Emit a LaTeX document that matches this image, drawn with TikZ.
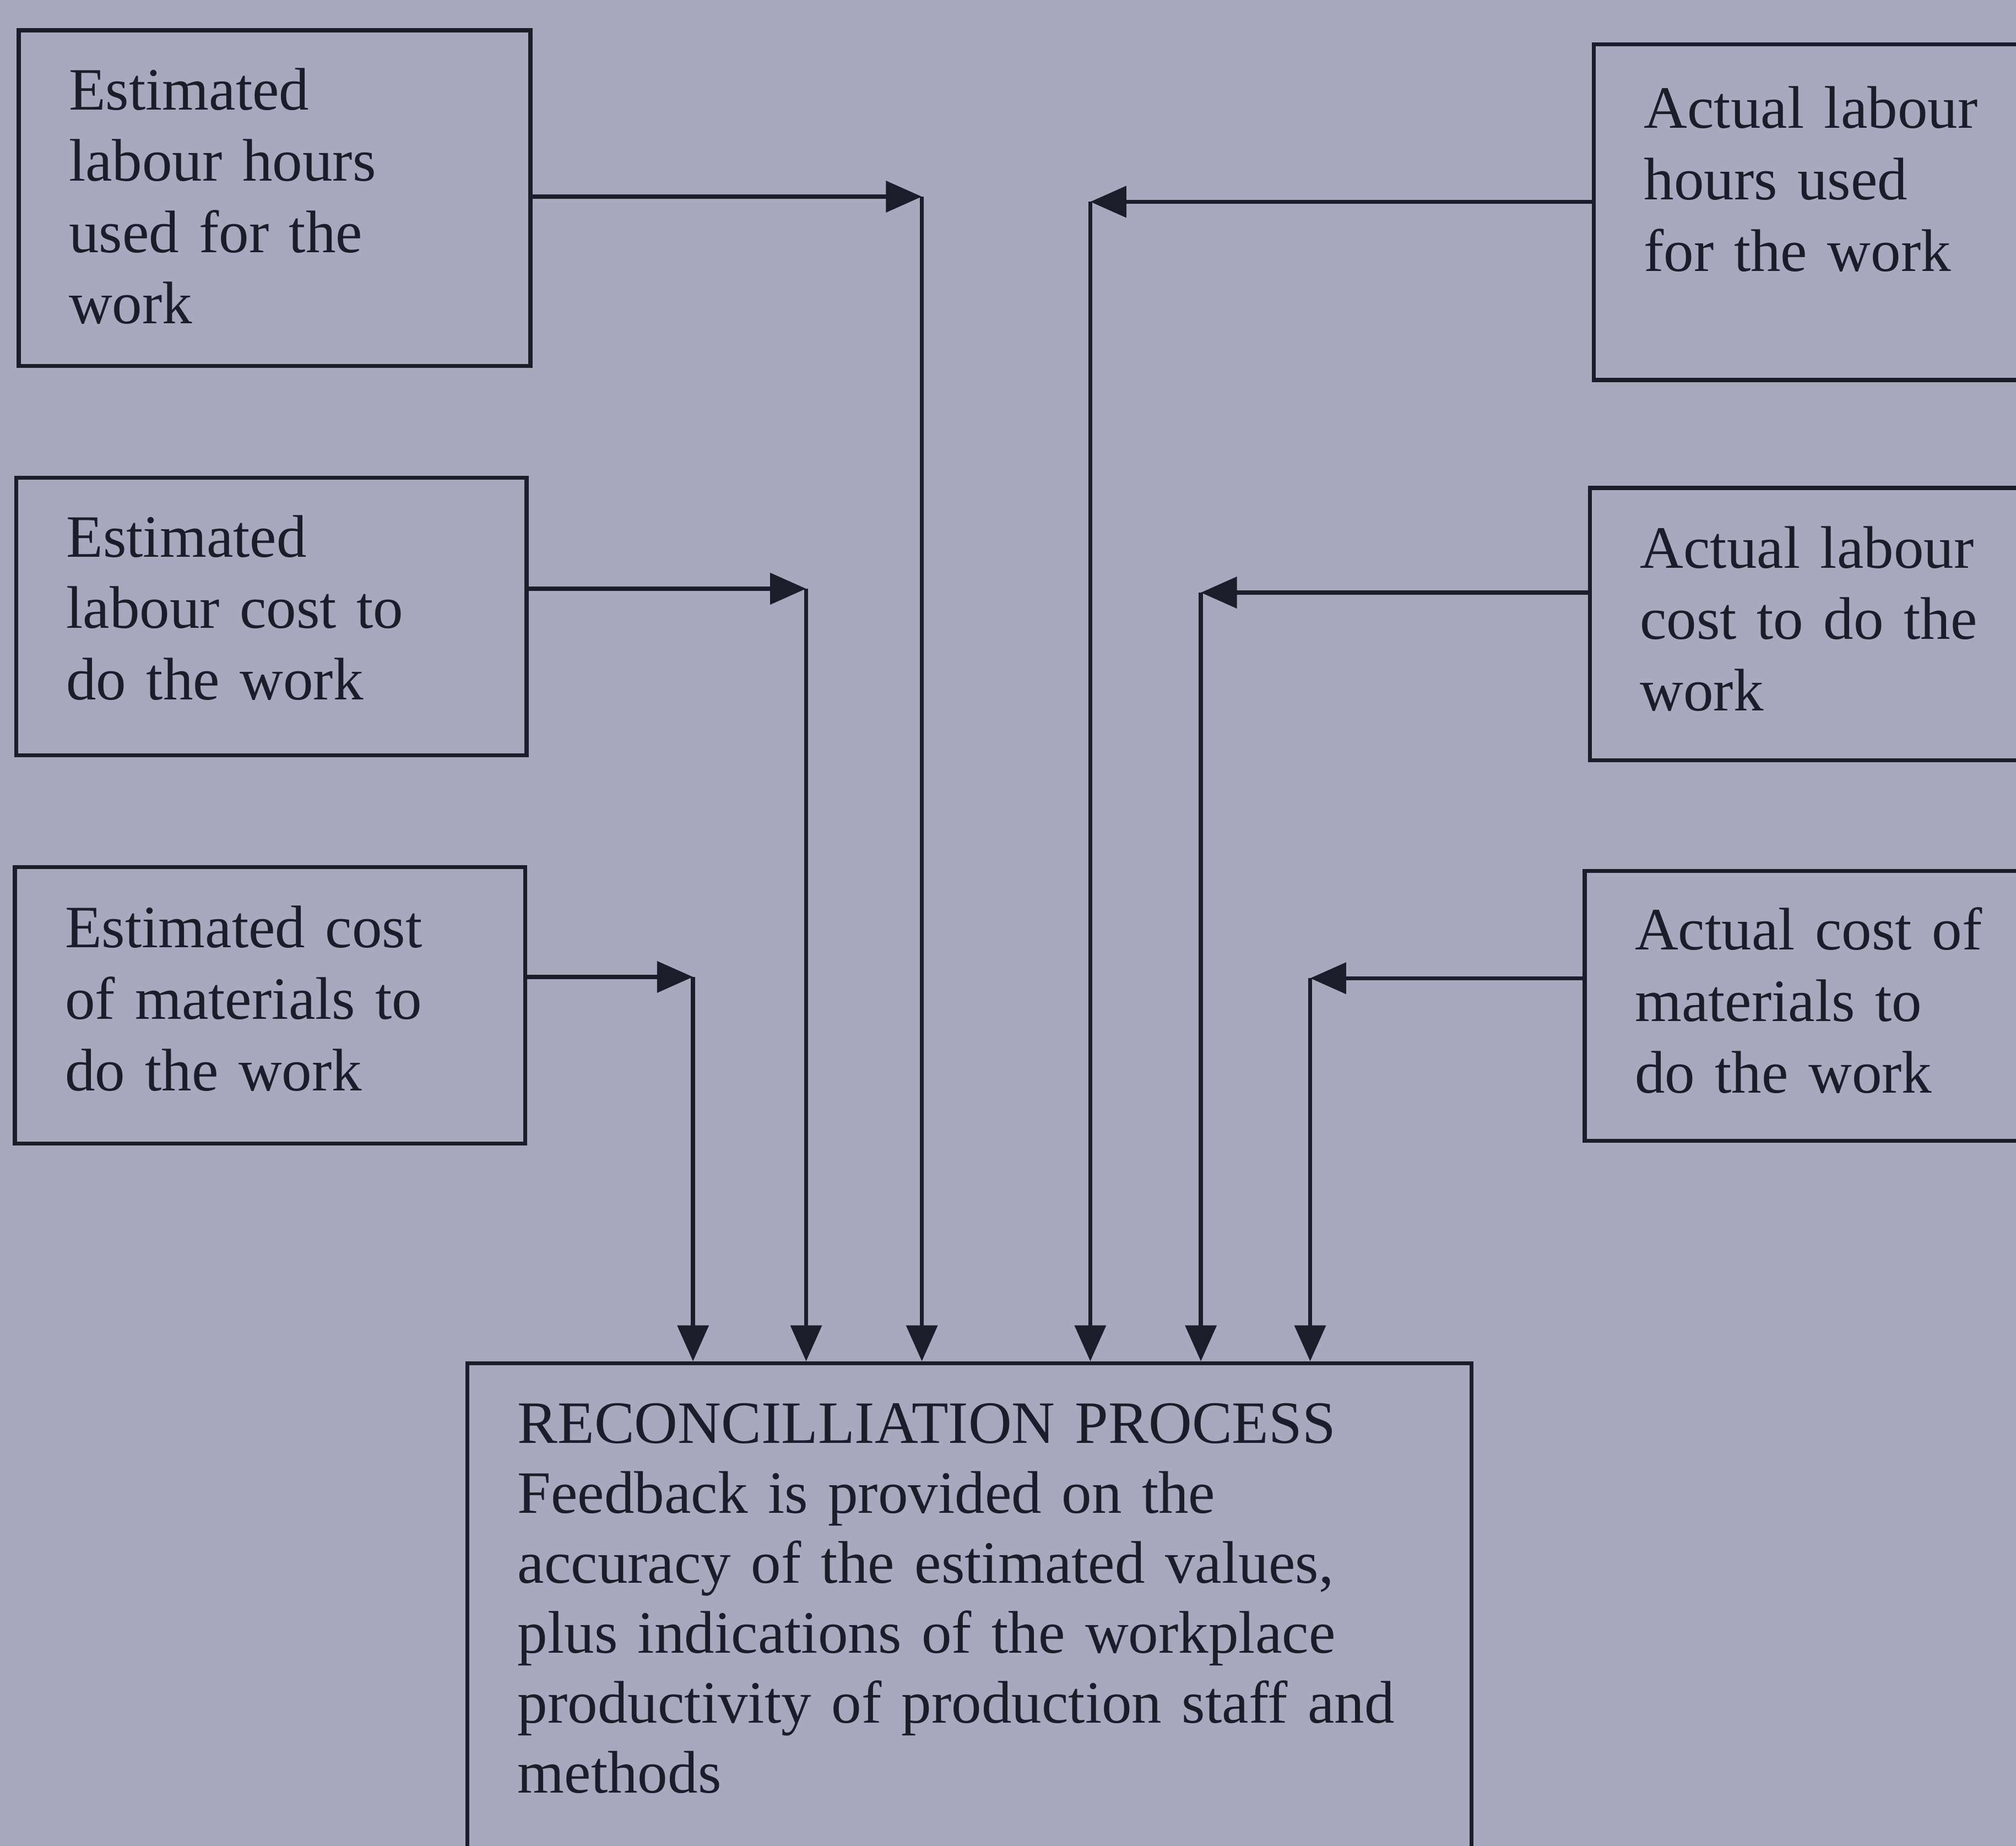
\documentclass[tikz,border=0pt]{standalone}
\usepackage{fontspec}
\setmainfont{Liberation Serif}
\usepackage{tikz}
\usetikzlibrary{arrows.meta,calc,positioning}

\definecolor{paper}{RGB}{170,168,190}
\definecolor{ink}{RGB}{28,28,42}

\begin{document}
\begin{tikzpicture}[
  box/.style={draw=ink, line width=0.9pt, text=ink, align=left, anchor=north west,
    inner xsep=0.39cm, font=\fontsize{13.3}{15.8}\selectfont},
  tip/.style={ink, line width=0.9pt, -{Triangle[length=0.28cm,width=0.24cm]}}]
\clip (0,0) rectangle (15.68,14.36);
\fill[paper] (0,0) rectangle (15.68,14.36);

% Estimated values
\node[box, text width=3.2cm, minimum height=2.61cm, text depth=1.70cm] (est1) at (0.13,14.14)
  {Estimated\\labour hours\\used for the\\work};
\node[box, text width=3.19cm, minimum height=2.16cm, text depth=1.25cm] (est2) at (0.11,10.66)
  {Estimated\\labour cost to\\do the work};
\node[box, text width=3.19cm, minimum height=2.15cm, text depth=1.22cm] (est3) at (0.10,7.63)
  {Estimated cost\\of materials to\\do the work};

% Actual values
\node[box, text width=3.3cm, minimum height=2.61cm, text depth=1.63cm] (act1) at (12.38,14.03)
  {Actual labour\\hours used\\for the work};
\node[box, text width=3.3cm, minimum height=2.12cm, text depth=1.20cm] (act2) at (12.35,10.58)
  {Actual labour\\cost to do the\\work};
\node[box, text width=3.3cm, minimum height=2.10cm, text depth=1.20cm] (act3) at (12.31,7.60)
  {Actual cost of\\materials to\\do the work};

% Reconciliation
\node[box, text width=7.03cm, inner ysep=0.31cm, text depth=3.72cm,
  font=\fontsize{13.3}{15.5}\selectfont] (rec) at (3.62,3.77)
  {RECONCILLIATION PROCESS\\Feedback is provided on the\\accuracy of the estimated values,\\plus indications of the workplace\\productivity of production staff and\\methods};

% Corners
\coordinate (k1) at (7.17,12.83);
\coordinate (k2) at (6.27,9.78);
\coordinate (k3) at (5.39,6.76);
\coordinate (k4) at (8.48,12.79);
\coordinate (k5) at (9.34,9.75);
\coordinate (k6) at (10.19,6.75);

% Connectors
\draw[tip] (est1.east |- k1) -- (k1);
\draw[tip] (k1) -- (k1 |- rec.north);
\draw[tip] (est2.east |- k2) -- (k2);
\draw[tip] (k2) -- (k2 |- rec.north);
\draw[tip] (est3.east |- k3) -- (k3);
\draw[tip] (k3) -- (k3 |- rec.north);
\draw[tip] (act1.west |- k4) -- (k4);
\draw[tip] (k4) -- (k4 |- rec.north);
\draw[tip] (act2.west |- k5) -- (k5);
\draw[tip] (k5) -- (k5 |- rec.north);
\draw[tip] (act3.west |- k6) -- (k6);
\draw[tip] (k6) -- (k6 |- rec.north);
\end{tikzpicture}
\end{document}
